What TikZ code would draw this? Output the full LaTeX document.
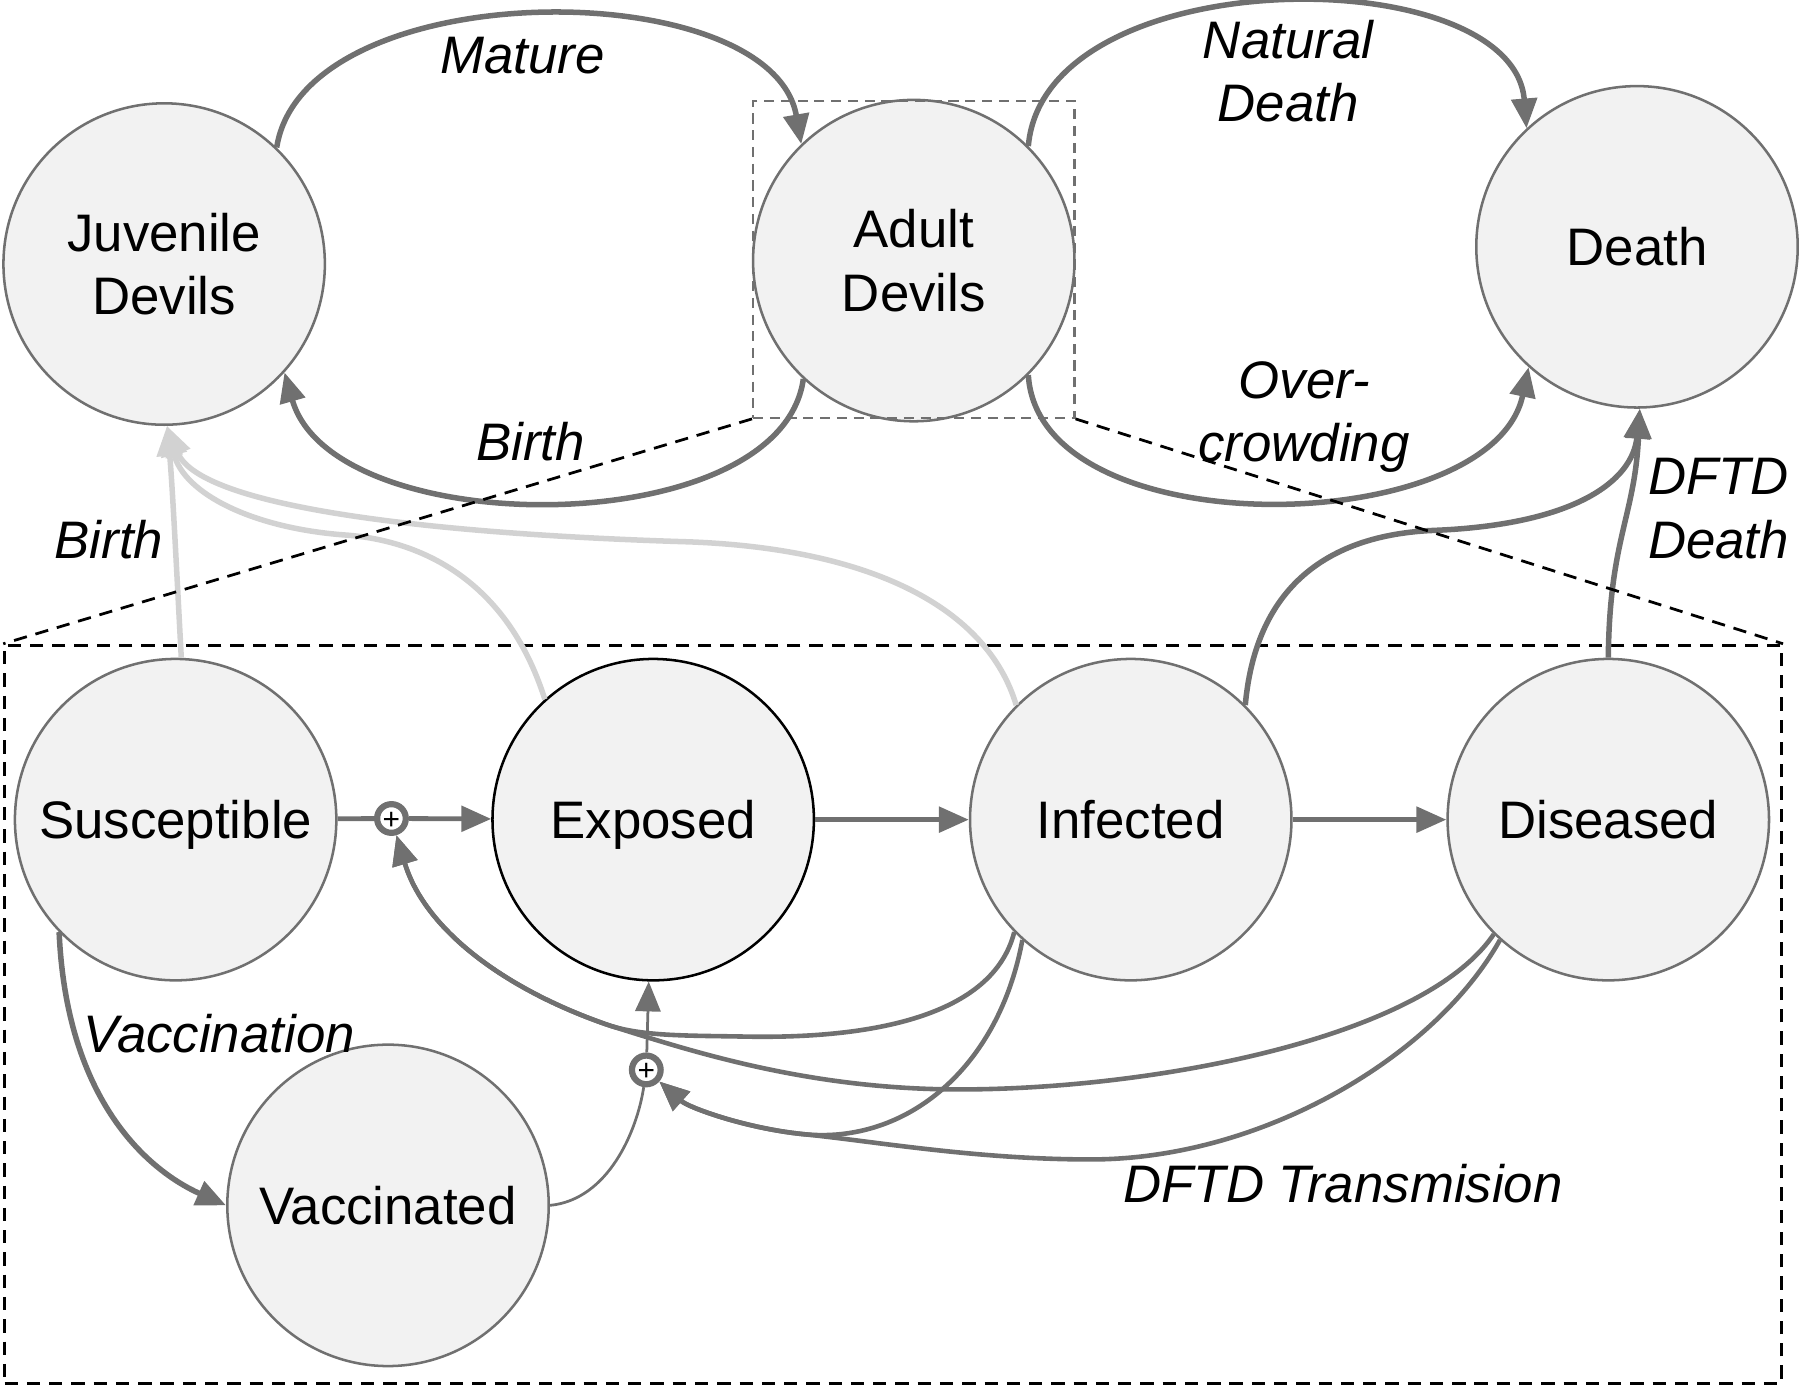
\documentclass[tikz,border=0pt]{standalone}
\usepackage{fontspec}
\setmainfont{Liberation Sans}
\usetikzlibrary{arrows.meta}
\definecolor{edgegray}{RGB}{112,112,112}
\definecolor{nodefill}{RGB}{242,242,242}
\definecolor{birthgray}{RGB}{210,210,210}
\tikzset{
  state/.style={circle, draw=edgegray, line width=1.1pt, fill=nodefill, minimum size=140pt, inner sep=0pt, align=center, font=\fontsize{23}{27.5}\selectfont},
  oneline/.style={text depth=0pt},
  plusnode/.style={circle, draw=edgegray, line width=2.7pt, fill=white, minimum size=12.5pt, inner sep=0pt, text height=9.2pt, text depth=0pt, font=\fontsize{13}{13}\selectfont},
  lbl/.style={font=\fontsize{23}{27.5}\selectfont\itshape, align=center, inner sep=0pt},
  tip/.style={-{Triangle[length=13pt,width=11pt]}},
  bigflow/.style={draw=edgegray, line width=2.4pt, tip},
  mainflow/.style={draw=edgegray, line width=2.1pt, tip},
  trans/.style={draw=edgegray, line width=2pt, tip},
  thinline/.style={draw=edgegray, line width=1.2pt},
  birthflow/.style={draw=birthgray, line width=2.4pt, tip},
  zoomframe/.style={draw=edgegray, line width=0.9pt, dash pattern=on 4.4pt off 2.9pt},
  bigframe/.style={draw=black, line width=1.2pt, dash pattern=on 5.8pt off 3.9pt},
}
\begin{document}
\begin{tikzpicture}[x=0.5pt,y=-0.5pt]
\useasboundingbox (0,0) rectangle (1568,1208);

% compartments
\node[state] (juv) at (143,230) {Juvenile\\Devils};
\node[state] (adu) at (796,227) {Adult\\Devils};
\node[state, oneline] (dea) at (1426,215) {Death};
\node[state, oneline] (sus) at (153,714) {Susceptible};
\node[state, oneline, draw=black] (exp) at (569,714) {Exposed};
\node[state, oneline] (inf) at (985,714) {Infected};
\node[state, oneline] (dis) at (1401,714) {Diseased};
\node[state, oneline] (vac) at (338,1050) {Vaccinated};
\node[plusnode] (p1) at (341,713) {+};
\node[plusnode] (p2) at (563,932) {+};

% frames
\node[zoomframe, minimum width=140pt, minimum height=138pt, inner sep=0pt] (zb) at (796,226) {};
\node[bigframe, minimum width=774pt, minimum height=321.5pt, inner sep=0pt] (bb) at (778,883.5) {};

% birth from sub-compartments (light)
\path[birthflow] (sus.88) .. controls (153,480) and (150,420) .. (juv.271);
\path[birthflow] (exp.132) .. controls (440,500) and (360,470) .. (300,466) .. controls (220,460) and (160,430) .. (juv.271);
\path[birthflow] (inf.135) .. controls (860,530) and (760,478) .. (600,472) .. controls (400,466) and (175,445) .. (juv.271);

% top flows
\path[bigflow] (juv.46) .. controls (265,-24) and (672,-24) .. (adu.134);
\path[bigflow] (adu.-133) .. controls (680,473) and (290,473) .. (juv.-42);
\path[bigflow] (adu.45) .. controls (910,-36) and (1318,-36) .. (dea.133);
\path[bigflow] (adu.-45) .. controls (905,478) and (1300,470) .. (dea.-132);

% deaths from infected / diseased
\path[bigflow] (inf.45) .. controls (1095,500) and (1170,465) .. (1250,462) .. controls (1370,457) and (1422,420) .. (dea.-89);
\path[bigflow] (dis.90) .. controls (1402,470) and (1424,450) .. (dea.-89);

% main progression
\draw[edgegray, line width=2.1pt] (sus) -- (p1);
\path[mainflow] (p1) -- (exp);
\path[mainflow] (exp) -- (inf);
\path[mainflow] (inf) -- (dis);

% vaccination
\path[bigflow] (sus.224) .. controls (58,960) and (130,1020) .. (vac.180);
\path[thinline] (vac.0) .. controls (530,1045) and (555,985) .. (p2);
\path[thinline, tip] (p2) -- (exp);

% DFTD transmission
\path[trans] (inf.224) .. controls (865,885) and (760,905) .. (650,903) .. controls (600,902) and (560,903) .. (530,893) .. controls (440,862) and (370,810) .. (p1);
\path[trans] (dis.225) .. controls (1240,905) and (1000,950) .. (830,949) .. controls (700,948) and (600,915) .. (530,893) .. controls (440,862) and (370,810) .. (p1);
\path[trans] (inf.228) .. controls (870,930) and (790,997) .. (700,988) .. controls (650,983) and (600,965) .. (p2);
\path[trans] (dis.228) .. controls (1250,920) and (1100,1010) .. (950,1010) .. controls (850,1010) and (760,994) .. (700,988) .. controls (650,983) and (600,965) .. (p2);

% zoom lines
\draw[bigframe] (zb.south west) -- (bb.north west);
\draw[bigframe] (zb.south east) -- (bb.north east);

% labels
\node[lbl] (lmature) at (455,48) {Mature};
\node[lbl] (lbirth1) at (462,385) {Birth};
\node[lbl] (lnat) at (1122,62) {Natural\\Death};
\node[lbl] (lover) at (1136,363) {Over-\\crowding};
\node[lbl] (ldftd) at (1497,443) {DFTD\\Death};
\node[lbl] (lbirth2) at (95,470) {Birth};
\node[lbl] (lvacc) at (191,900) {Vaccination};
\node[lbl] (ltrans) at (1170,1031) {DFTD Transmision};
\end{tikzpicture}
\end{document}
